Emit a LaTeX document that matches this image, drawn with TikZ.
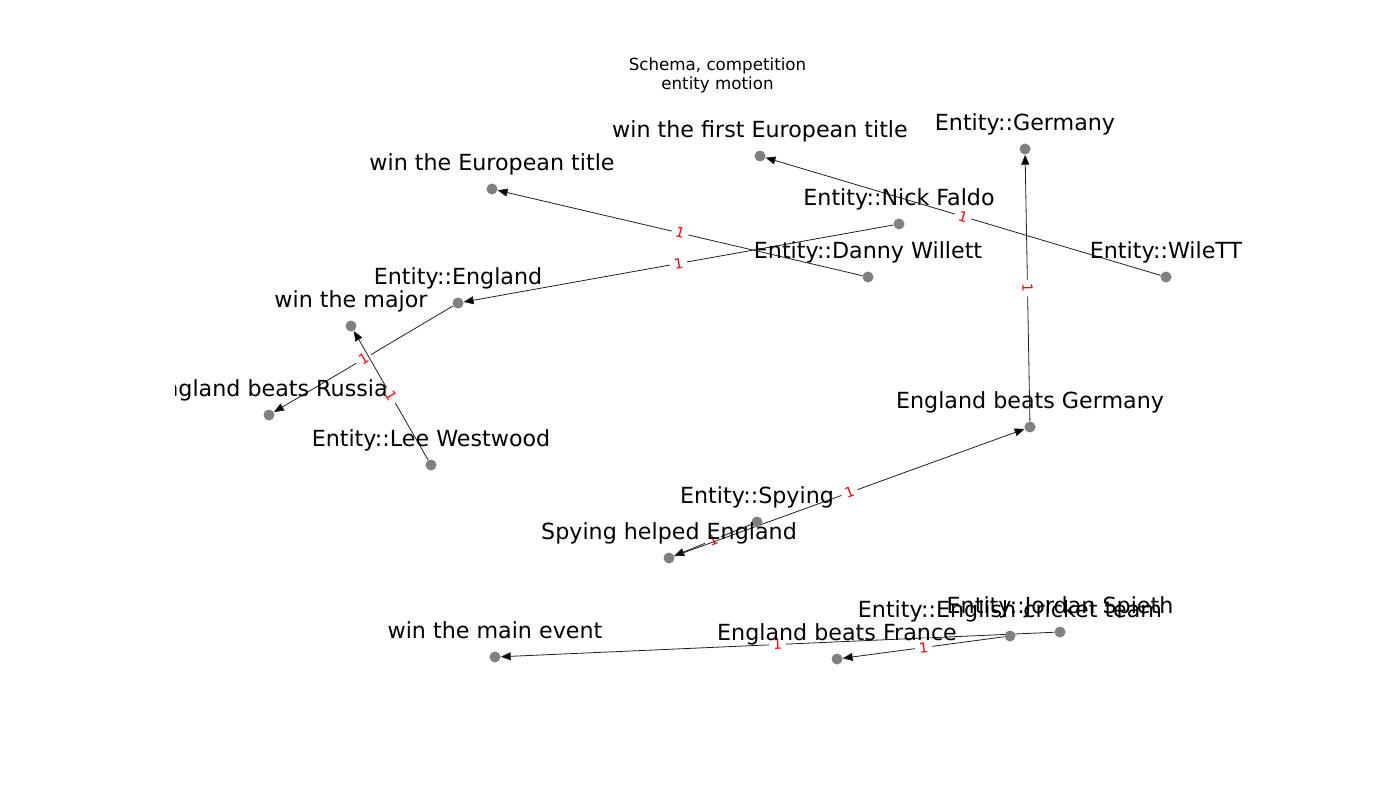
\documentclass[tikz,border=0pt]{standalone}
\usepackage{fontspec}
\setmainfont{DejaVu Sans}
\usetikzlibrary{arrows.meta}
\pgfdeclarelayer{edgelayer}
\pgfsetlayers{edgelayer,main}
\definecolor{dotgray}{HTML}{808080}
\definecolor{lblred}{HTML}{FF0000}
\definecolor{edgeblack}{HTML}{202020}
\begin{document}
\begin{tikzpicture}[x=1pt,y=-1pt,
  dot/.style={circle,fill=dotgray,draw=none,inner sep=0pt,minimum size=11pt},
  lbl/.style={font=\fontsize{22.2}{26.6}\selectfont,anchor=base,inner sep=0pt,text=black},
  ttl/.style={font=\fontsize{16.7}{20}\selectfont,anchor=base,inner sep=0pt,text=black},
  edge/.style={draw=edgeblack,line width=0.8pt,-{Triangle[length=10pt,width=8pt,fill=black]}},
  wt/.style={midway,sloped,fill=white,text=lblred,inner sep=4pt,font=\fontsize{14}{16}\selectfont}]
\useasboundingbox (0,0) rectangle (1400,800);

% title
\node[ttl] (title1) at (717.5,70.8) {Schema, competition};
\node[ttl] (title2) at (717.5,89) {entity motion};

% nodes
\node[dot] (wfet)   at (760,156) {};
\node[dot] (ger)    at (1025,149) {};
\node[dot] (wet)    at (492,189) {};
\node[dot] (faldo)  at (899,224) {};
\node[dot] (danny)  at (868,277) {};
\node[dot] (wilett) at (1166,277) {};
\node[dot] (eng)    at (458,303) {};
\node[dot] (major)  at (351,326) {};
\node[dot] (russia) at (269,415) {};
\node[dot] (lee)    at (431,465) {};
\node[dot] (ebg)    at (1030,427) {};
\node[dot] (spy)    at (757,522) {};
\node[dot] (she)    at (669,558) {};
\node[dot] (mainev) at (495,657) {};
\node[dot] (ebf)    at (837,659) {};
\node[dot] (ect)    at (1010,636) {};
\node[dot] (jordan) at (1060,632) {};

% edges
\begin{pgfonlayer}{edgelayer}
\draw[edge] (wilett) -- node[wt] {1} (wfet);
\draw[edge] (ebg) -- node[wt] {1} (ger);
\draw[edge] (danny) -- node[wt] {1} (wet);
\draw[edge] (faldo) -- node[wt] {1} (eng);
\draw[edge] (eng) -- node[wt] {1} (russia);
\draw[edge] (lee) -- node[wt] {1} (major);
\draw[edge] (spy) -- node[wt] {1} (she);
\draw[edge] (she) -- node[wt] {1} (ebg);
\draw[edge] (jordan) -- node[wt] {1} (mainev);
\draw[edge] (ect) -- node[wt] {1} (ebf);
\end{pgfonlayer}

% node labels
\begin{scope}
\clip (175,0) rectangle (1400,800);
\node[lbl] (l-wfet)   at (760,137) {win the first European title};
\node[lbl] (l-ger)    at (1025,130) {Entity::Germany};
\node[lbl] (l-wet)    at (492,170) {win the European title};
\node[lbl] (l-faldo)  at (899,205) {Entity::Nick Faldo};
\node[lbl] (l-danny)  at (868,258) {Entity::Danny Willett};
\node[lbl] (l-wilett) at (1166,258) {Entity::WileTT};
\node[lbl] (l-eng)    at (458,284) {Entity::England};
\node[lbl] (l-major)  at (351,307) {win the major};
\node[lbl] (l-russia) at (269,396) {England beats Russia};
\node[lbl] (l-lee)    at (431,446) {Entity::Lee Westwood};
\node[lbl] (l-ebg)    at (1030,408) {England beats Germany};
\node[lbl] (l-spy)    at (757,503) {Entity::Spying};
\node[lbl] (l-she)    at (669,539) {Spying helped England};
\node[lbl] (l-mainev) at (495,638) {win the main event};
\node[lbl] (l-ebf)    at (837,640) {England beats France};
\node[lbl] (l-ect)    at (1010,617) {Entity::English cricket team};
\node[lbl] (l-jordan) at (1060,613) {Entity::Jordan Spieth};
\end{scope}
\end{tikzpicture}
\end{document}
